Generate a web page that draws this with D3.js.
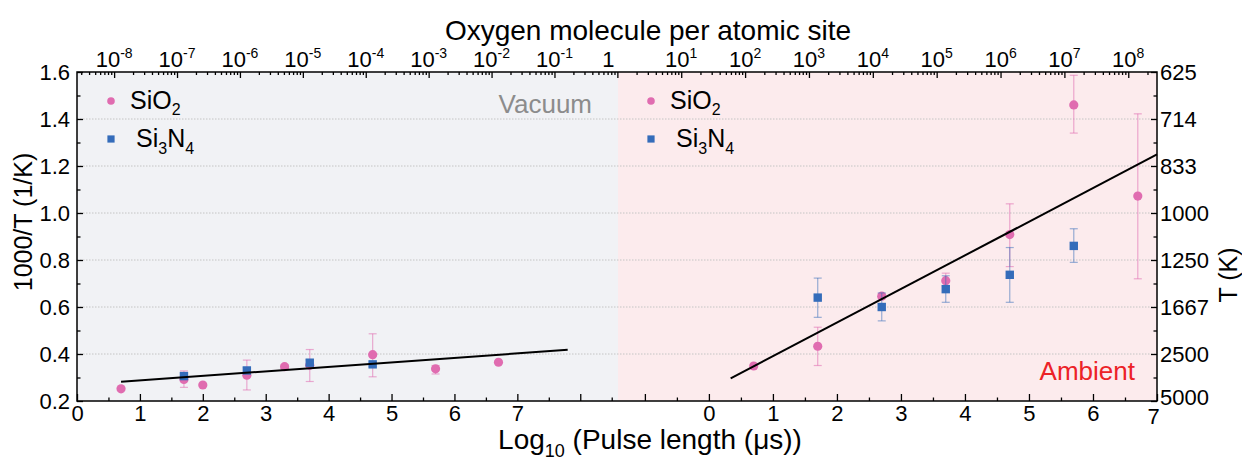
<!DOCTYPE html>
<html>
<head>
<meta charset="utf-8">
<script src="https://cdn.jsdelivr.net/npm/d3@7"></script>
<style>
  body { margin: 0; background: #fff; }
  svg { display: block; font-family: "Liberation Sans", Arial, sans-serif; }
</style>
</head>
<body>
<svg id="chart" width="1242" height="462"></svg>
<script>
// vacuum panel (x = log10 pulse length, us)
const vacSiO2X = [0.7, 1.7, 2.0, 2.7, 3.3, 3.7, 4.7, 5.7, 6.7];
const vacSiO2Y = [0.252, 0.292, 0.268, 0.31, 0.346, 0.352, 0.397, 0.337, 0.365];
const vacSiO2Lo = [0.252, 0.258, 0.268, 0.247, 0.338, 0.283, 0.303, 0.315, 0.365];
const vacSiO2Hi = [0.252, 0.328, 0.268, 0.374, 0.355, 0.419, 0.486, 0.351, 0.365];
const vacSi3N4X = [1.7, 2.7, 3.7, 4.7];
const vacSi3N4Y = [0.306, 0.33, 0.363, 0.356];
const vacSi3N4Lo = [0.296, 0.318, 0.352, 0.346];
const vacSi3N4Hi = [0.318, 0.342, 0.375, 0.366];
const vacFitX = [0.7, 7.8];
const vacFitY = [0.282, 0.418];

// ambient panel
const ambSiO2X = [0.7, 1.7, 2.7, 3.7, 4.7, 5.7, 6.7];
const ambSiO2Y = [0.349, 0.433, 0.646, 0.712, 0.908, 1.46, 1.072];
const ambSiO2Lo = [0.345, 0.351, 0.635, 0.69, 0.772, 1.34, 0.72];
const ambSiO2Hi = [0.353, 0.514, 0.657, 0.744, 1.039, 1.586, 1.422];
const ambSi3N4X = [1.7, 2.7, 3.7, 4.7, 5.7];
const ambSi3N4Y = [0.64, 0.6, 0.676, 0.737, 0.86];
const ambSi3N4Lo = [0.556, 0.541, 0.62, 0.62, 0.79];
const ambSi3N4Hi = [0.723, 0.66, 0.733, 0.853, 0.933];
const ambFitX = [0.34, 7];
const ambFitY = [0.296, 1.249];

// ticks
const yTicks = [0.2, 0.4, 0.6, 0.8, 1.0, 1.2, 1.4, 1.6];
const yMinor = [0.3, 0.5, 0.7, 0.9, 1.1, 1.3, 1.5];
const tLabels = ["5000", "2500", "1667", "1250", "1000", "833", "714", "625"];
const vacTicks = [0, 1, 2, 3, 4, 5, 6, 7, 8];
const vacLabels = ["0", "1", "2", "3", "4", "5", "6", "7", ""];
const ambTicks = [-1, 0, 1, 2, 3, 4, 5, 6, 7];
const ambLabels = ["", "0", "1", "2", "3", "4", "5", "6", "7"];
const topExp = [-8, -7, -6, -5, -4, -3, -2, -1, 0, 1, 2, 3, 4, 5, 6, 7, 8];

const color = {
  sio2: "rgb(224, 108, 176)",
  sio2Err: "rgba(224, 108, 176, 0.55)",
  si3n4: "rgb(52, 108, 186)",
  si3n4Err: "rgba(52, 108, 186, 0.5)",
  vacBg: "#f1f2f5",
  ambBg: "#fcebed",
};

const pL = 77, pR = 1157, pMid = 618, pT = 72, pB = 401;

const svg = d3.select("#chart");
svg.append("rect").attr("width", 1242).attr("height", 462).attr("fill", "#fff");

const xVac = d3.scaleLinear().domain([0, 8.6]).range([pL, pMid]);
const xAmb = d3.scaleLinear().domain([-1.42, 7]).range([pMid, pR]);
const xTop = d3.scaleLog()
  .domain([Math.pow(10, -8.59), Math.pow(10, 0.01), Math.pow(10, 8.45)])
  .range([pL, pMid, pR]);
const y = d3.scaleLinear().domain([0.2, 1.6]).range([pB, pT]);

// panel backgrounds
svg.append("rect").attr("x", pL).attr("y", pT)
  .attr("width", pMid - pL).attr("height", pB - pT).attr("fill", color.vacBg);
svg.append("rect").attr("x", pMid).attr("y", pT)
  .attr("width", pR - pMid).attr("height", pB - pT).attr("fill", color.ambBg);

// grid
svg.append("g").selectAll("line")
  .data(yTicks.slice(1, -1))
  .join("line")
  .attr("x1", pL).attr("x2", pR)
  .attr("y1", d => y(d)).attr("y2", d => y(d))
  .attr("stroke", "#c4c4c4").attr("stroke-width", 1)
  .attr("stroke-dasharray", "1.5,1.5");

function drawSeries(x, xs, ys, lo, hi, shape, fill, errColor) {
  const g = svg.append("g");
  const pts = xs.map((d, i) => ({ x: d, y: ys[i], lo: lo[i], hi: hi[i] }));
  const err = pts.filter(d => d.hi - d.lo > 0.012);
  g.selectAll(".eb").data(err).join("line")
    .attr("x1", d => x(d.x)).attr("x2", d => x(d.x))
    .attr("y1", d => y(d.lo)).attr("y2", d => y(d.hi))
    .attr("stroke", errColor).attr("stroke-width", 1.2);
  ["lo", "hi"].forEach(k => {
    g.selectAll(".cap" + k).data(err).join("line")
      .attr("x1", d => x(d.x) - 4).attr("x2", d => x(d.x) + 4)
      .attr("y1", d => y(d[k])).attr("y2", d => y(d[k]))
      .attr("stroke", errColor).attr("stroke-width", 1.2);
  });
  if (shape == "circle") {
    g.selectAll("circle").data(pts).join("circle")
      .attr("cx", d => x(d.x)).attr("cy", d => y(d.y)).attr("r", 4.6)
      .attr("fill", fill);
  } else {
    g.selectAll("rect").data(pts).join("rect")
      .attr("x", d => x(d.x) - 4.2).attr("y", d => y(d.y) - 4.2)
      .attr("width", 8.4).attr("height", 8.4)
      .attr("fill", fill);
  }
}

function drawFit(x, xs, ys) {
  svg.append("path")
    .datum(xs.map((d, i) => [d, ys[i]]))
    .attr("d", d3.line().x(d => x(d[0])).y(d => y(d[1])))
    .attr("fill", "none").attr("stroke", "#000").attr("stroke-width", 2);
}

drawSeries(xVac, vacSiO2X, vacSiO2Y, vacSiO2Lo, vacSiO2Hi, "circle", color.sio2, color.sio2Err);
drawSeries(xVac, vacSi3N4X, vacSi3N4Y, vacSi3N4Lo, vacSi3N4Hi, "square", color.si3n4, color.si3n4Err);
drawFit(xVac, vacFitX, vacFitY);
drawSeries(xAmb, ambSiO2X, ambSiO2Y, ambSiO2Lo, ambSiO2Hi, "circle", color.sio2, color.sio2Err);
drawSeries(xAmb, ambSi3N4X, ambSi3N4Y, ambSi3N4Lo, ambSi3N4Hi, "square", color.si3n4, color.si3n4Err);
drawFit(xAmb, ambFitX, ambFitY);

// axes
function styleAxis(g) {
  g.select(".domain").remove();
  g.attr("font-size", 22).attr("font-family", "Liberation Sans, Arial, sans-serif");
  g.selectAll("line").attr("stroke", "#000").attr("stroke-width", 1.3);
  g.selectAll("text").attr("fill", "#000");
}

svg.append("g").attr("transform", `translate(${pL},0)`)
  .call(d3.axisLeft(y).tickValues(yTicks).tickSize(-6).tickPadding(7).tickFormat(d3.format(".1f")))
  .call(styleAxis);
svg.append("g").attr("transform", `translate(${pL},0)`)
  .call(d3.axisLeft(y).tickValues(yMinor).tickSize(-3.5).tickFormat(""))
  .call(styleAxis);
const rAxis = svg.append("g").attr("transform", `translate(${pR},0)`)
  .call(d3.axisRight(y).tickValues(yTicks).tickSize(-6).tickPadding(3).tickFormat((d, i) => tLabels[i]))
  .call(styleAxis);
// lowest label sits just above the bottom-right corner
rAxis.selectAll("text").filter(d => d == 0.2).attr("y", -4);
svg.append("g").attr("transform", `translate(${pR},0)`)
  .call(d3.axisRight(y).tickValues(yMinor).tickSize(-3.5).tickFormat(""))
  .call(styleAxis);

svg.append("g").attr("transform", `translate(0,${pB})`)
  .call(d3.axisBottom(xVac).tickValues(vacTicks).tickSize(-7).tickPadding(4).tickFormat((d, i) => vacLabels[i]))
  .call(styleAxis);
svg.append("g").attr("transform", `translate(0,${pB})`)
  .call(d3.axisBottom(xVac).tickValues(d3.range(0.5, 8.6, 1)).tickSize(-3.5).tickFormat(""))
  .call(styleAxis);
const bAxis = svg.append("g").attr("transform", `translate(0,${pB})`)
  .call(d3.axisBottom(xAmb).tickValues(ambTicks).tickSize(-7).tickPadding(4).tickFormat((d, i) => ambLabels[i]))
  .call(styleAxis);
bAxis.selectAll("text").filter(d => d == 7).attr("x", -4).attr("y", 7);
svg.append("g").attr("transform", `translate(0,${pB})`)
  .call(d3.axisBottom(xAmb).tickValues(d3.range(-0.5, 7, 1)).tickSize(-3.5).tickFormat(""))
  .call(styleAxis);

const topMajor = topExp.map(e => Math.pow(10, e));
const topMinor = [];
for (let k = -9; k <= 8; k++) {
  for (let m = 2; m <= 9; m++) {
    const v = m * Math.pow(10, k);
    if (v > xTop.domain()[0] && v < xTop.domain()[2]) topMinor.push(v);
  }
}
svg.append("g").attr("transform", `translate(0,${pT})`)
  .call(d3.axisTop(xTop).tickValues(topMajor).tickSize(-6).tickFormat(""))
  .call(styleAxis);
svg.append("g").attr("transform", `translate(0,${pT})`)
  .call(d3.axisTop(xTop).tickValues(topMinor).tickSize(-3).tickFormat(""))
  .call(styleAxis);

const topLab = svg.append("g").attr("font-size", 22).attr("text-anchor", "middle");
topExp.forEach(e => {
  const t = topLab.append("text").attr("x", xTop(Math.pow(10, e))).attr("y", 67);
  if (e == 0) {
    t.attr("dx", -9).text("1");
  } else {
    t.append("tspan").text("10");
    t.append("tspan").attr("font-size", 14).attr("dy", -9).text(e);
  }
});

// frame
svg.append("rect").attr("x", pL).attr("y", pT)
  .attr("width", pR - pL).attr("height", pB - pT)
  .attr("fill", "none").attr("stroke", "#000").attr("stroke-width", 1.5);

// titles
svg.append("text").attr("x", 648).attr("y", 40).attr("text-anchor", "middle")
  .attr("font-size", 28).text("Oxygen molecule per atomic site");

const xt = svg.append("text").attr("x", 650).attr("y", 449).attr("text-anchor", "middle")
  .attr("font-size", 28);
xt.append("tspan").text("Log");
xt.append("tspan").attr("font-size", 18).attr("dy", 8).text("10");
xt.append("tspan").attr("dy", -8).text(" (Pulse length  (\u03bcs))");

svg.append("text").attr("transform", "translate(32,222) rotate(-90)")
  .attr("text-anchor", "middle").attr("font-size", 25).text("1000/T (1/K)");
svg.append("text").attr("transform", "translate(1237,275) rotate(-90)")
  .attr("text-anchor", "middle").attr("font-size", 25).text("T (K)");

svg.append("text").attr("x", 592).attr("y", 113).attr("text-anchor", "end")
  .attr("font-size", 26).attr("fill", "#8c8c8c").text("Vacuum");
svg.append("text").attr("x", 1135).attr("y", 380).attr("text-anchor", "end")
  .attr("font-size", 26).attr("fill", "#ec2227").text("Ambient");

// legends
function legend(x0) {
  const g = svg.append("g").attr("font-size", 25);
  g.append("circle").attr("cx", x0).attr("cy", 101).attr("r", 3.8).attr("fill", color.sio2);
  g.append("rect").attr("x", x0 - 3.6).attr("y", 135.4).attr("width", 7.2).attr("height", 7.2)
    .attr("fill", color.si3n4);
  const a = g.append("text").attr("x", x0 + 19).attr("y", 109);
  a.append("tspan").text("SiO");
  a.append("tspan").attr("font-size", 16).attr("dy", 6).text("2");
  const b = g.append("text").attr("x", x0 + 25).attr("y", 147);
  b.append("tspan").text("Si");
  b.append("tspan").attr("font-size", 16).attr("dy", 7).text("3");
  b.append("tspan").attr("dy", -7).text("N");
  b.append("tspan").attr("font-size", 16).attr("dy", 7).text("4");
}
legend(111);
legend(651);
</script>
</body>
</html>
